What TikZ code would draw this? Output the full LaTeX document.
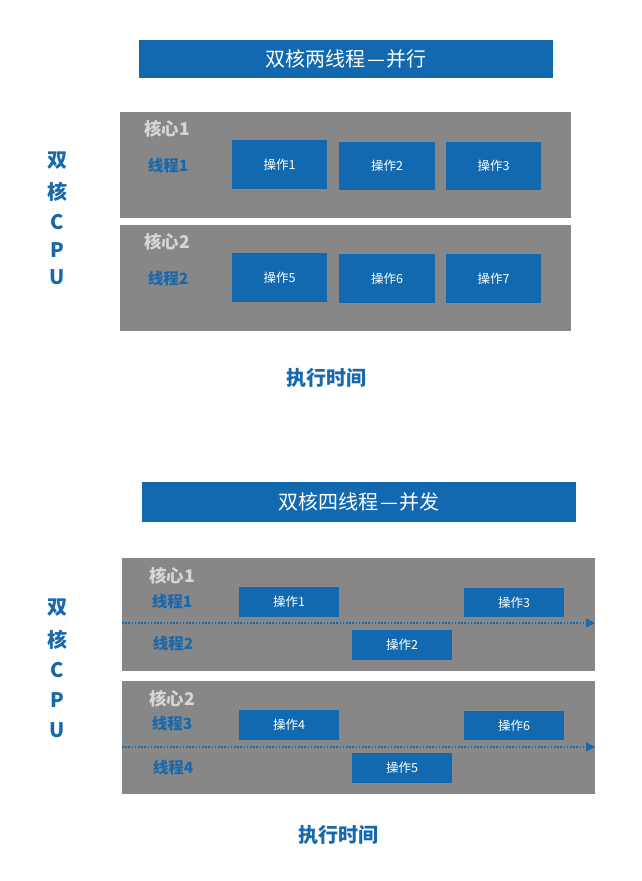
\documentclass[tikz,border=0pt]{standalone}
\usepackage{fontspec}
\setmainfont{Noto Sans CJK SC}
\usetikzlibrary{arrows.meta}
\definecolor{opblue}{HTML}{1269B0}
\definecolor{txtblue}{HTML}{1868AC}
\definecolor{coregray}{HTML}{888788}
\definecolor{corelbl}{HTML}{D6D6D6}
\tikzset{
  px/.style={x=1pt,y=-1pt},
  titlebar/.style={fill=opblue,draw=none,inner sep=0pt,text=white,font=\fontsize{20}{20}\selectfont},
  corebox/.style={fill=coregray,draw=none,inner sep=0pt},
  opbox/.style={fill=opblue,draw=none,inner sep=0pt,text=white,font=\fontsize{12.5}{13}\selectfont},
  corelabel/.style={text=corelbl,font=\fontsize{17.5}{18}\selectfont\bfseries,inner sep=0pt},
  thrlabel/.style={text=txtblue,font=\fontsize{15.5}{16}\selectfont\bfseries,inner sep=0pt},
  cpulabel/.style={text=txtblue,font=\fontsize{20}{20}\selectfont\bfseries,inner sep=0pt},
  timelabel/.style={text=txtblue,font=\fontsize{20}{20}\selectfont\bfseries,inner sep=0pt},
  timeline/.style={draw=txtblue,line width=1.6pt,dash pattern=on 1.6pt off 1.6pt,-{Triangle[length=9pt,width=9pt]}}
}
\begin{document}
\begin{tikzpicture}[px]
\useasboundingbox[fill=white] (0,0) rectangle (642,881);
% ===== Panel 1 =====
\node[titlebar,minimum width=414pt,minimum height=38pt] (t1) at (346,59) {双核两线程\hspace{2pt}—\hspace{2pt}并行};
\node[corebox,minimum width=451pt,minimum height=106pt] (c1) at (345.5,165) {};
\node[corebox,minimum width=451pt,minimum height=106pt] (c2) at (345.5,278) {};
\node[corelabel] (c1l) at (167,129) {核心1};
\node[corelabel] (c2l) at (167,242) {核心2};
\node[thrlabel] (p1t1) at (168,166) {线程1};
\node[thrlabel] (p1t2) at (168,279) {线程2};
\node[opbox,minimum width=95pt,minimum height=49pt] (a1) at (279.5,164.5) {操作1};
\node[opbox,minimum width=96pt,minimum height=48pt] (a2) at (387,166) {操作2};
\node[opbox,minimum width=95pt,minimum height=48pt] (a3) at (493.5,166) {操作3};
\node[opbox,minimum width=95pt,minimum height=49pt] (a5) at (279.5,277.5) {操作5};
\node[opbox,minimum width=96pt,minimum height=49pt] (a6) at (387,278.5) {操作6};
\node[opbox,minimum width=95pt,minimum height=49pt] (a7) at (493.5,278.5) {操作7};
\node[cpulabel] (v1a) at (57,161) {双};
\node[cpulabel] (v1b) at (57,192) {核};
\node[cpulabel] (v1c) at (57,222) {C};
\node[cpulabel] (v1d) at (57,250) {P};
\node[cpulabel] (v1e) at (57,277) {U};
\node[timelabel] (tm1) at (326,378) {执行时间};
% ===== Panel 2 =====
\node[titlebar,minimum width=434pt,minimum height=40pt] (t2) at (359,502) {双核四线程\hspace{2pt}—\hspace{2pt}并发};
\node[corebox,minimum width=473pt,minimum height=113pt] (d1) at (358.5,614.5) {};
\node[corebox,minimum width=473pt,minimum height=113pt] (d2) at (358.5,737.5) {};
\node[corelabel] (d1l) at (172,576) {核心1};
\node[corelabel] (d2l) at (172,699) {核心2};
\node[thrlabel] (q1) at (172,602) {线程1};
\node[thrlabel] (q2) at (173,644) {线程2};
\node[thrlabel] (q3) at (172,724) {线程3};
\node[thrlabel] (q4) at (173,768) {线程4};
\coordinate (l1s) at (122,623);
\coordinate (l1e) at (595,623);
\coordinate (l2s) at (122,747);
\coordinate (l2e) at (595,747);
\draw[timeline] (l1s) -- (l1e);
\draw[timeline] (l2s) -- (l2e);
\node[opbox,minimum width=100pt,minimum height=30pt] (b1) at (289,602) {操作1};
\node[opbox,minimum width=100pt,minimum height=30pt] (b2) at (402,645) {操作2};
\node[opbox,minimum width=100pt,minimum height=29pt] (b3) at (514,602.5) {操作3};
\node[opbox,minimum width=100pt,minimum height=30pt] (b4) at (289,725) {操作4};
\node[opbox,minimum width=100pt,minimum height=30pt] (b5) at (402,768) {操作5};
\node[opbox,minimum width=100pt,minimum height=29pt] (b6) at (514,725.5) {操作6};
\node[cpulabel] (v2a) at (57,608) {双};
\node[cpulabel] (v2b) at (57,640) {核};
\node[cpulabel] (v2c) at (57,670) {C};
\node[cpulabel] (v2d) at (57,700) {P};
\node[cpulabel] (v2e) at (57,730) {U};
\node[timelabel] (tm2) at (338,835) {执行时间};
\end{tikzpicture}
\end{document}
